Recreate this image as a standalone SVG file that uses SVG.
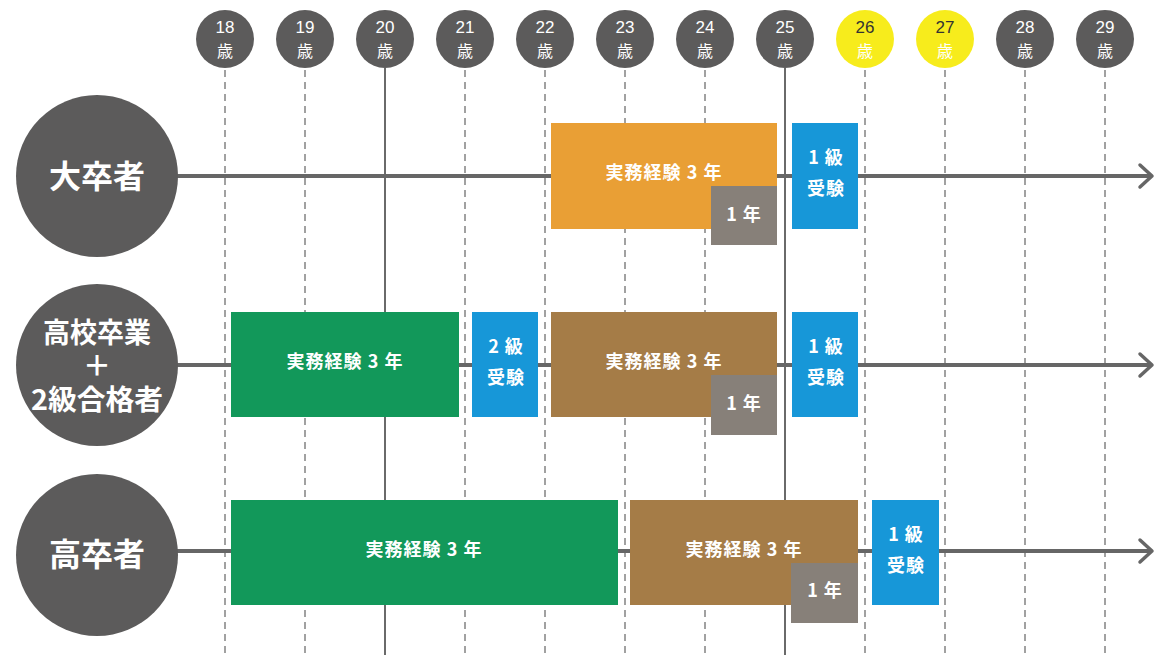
<svg xmlns="http://www.w3.org/2000/svg" width="1158" height="655" viewBox="0 0 1158 655">
<defs>
<style>
.vd{stroke:#8a8a8a;stroke-width:1.6;stroke-dasharray:7 5;fill:none}
.vs{stroke:#6a6a6a;stroke-width:2;fill:none}
.hl{stroke:#666;stroke-width:4;fill:none}
.ah{stroke:#666;stroke-width:3.5;fill:none;stroke-linecap:round;stroke-linejoin:round}
.age{fill:#5c5b5b}
.agey{fill:#f7ec1c}
.at{font-family:"Liberation Sans","Noto Sans CJK JP",sans-serif;font-size:17px;fill:#fff;text-anchor:middle}
.aty{fill:#333}
.ak{font-family:"Noto Sans CJK JP",sans-serif;font-size:16px;fill:#fff;text-anchor:middle}
.big{fill:#5c5b5b}
.bt{font-family:"Noto Sans CJK JP",sans-serif;font-weight:bold;fill:#fff;text-anchor:middle}
.bx{font-family:"Noto Sans CJK JP",sans-serif;font-weight:bold;font-size:18px;fill:#fff;text-anchor:middle;letter-spacing:1px}
.or{fill:#e99f35}
.gr{fill:#12985a}
.br{fill:#a57c47}
.bl{fill:#1797d8}
.gy{fill:#878079}
</style>
</defs>
<rect width="1158" height="655" fill="#fff"/>
<g id="grid">
<line class="vd" x1="225" y1="70" x2="225" y2="655"/>
<line class="vd" x1="305" y1="70" x2="305" y2="655"/>
<line class="vs" x1="385" y1="68" x2="385" y2="655"/>
<line class="vd" x1="465" y1="70" x2="465" y2="655"/>
<line class="vd" x1="545" y1="70" x2="545" y2="655"/>
<line class="vd" x1="625" y1="70" x2="625" y2="655"/>
<line class="vd" x1="705" y1="70" x2="705" y2="655"/>
<line class="vs" x1="785" y1="68" x2="785" y2="655"/>
<line class="vd" x1="865" y1="70" x2="865" y2="655"/>
<line class="vd" x1="945" y1="70" x2="945" y2="655"/>
<line class="vd" x1="1025" y1="70" x2="1025" y2="655"/>
<line class="vd" x1="1105" y1="70" x2="1105" y2="655"/>
</g>
<g id="ages">
<g id="age18"><circle class="age" cx="225" cy="39" r="29"/><text class="at" x="225" y="33">18</text><text class="ak" x="225" y="57">歳</text></g>
<g id="age19"><circle class="age" cx="305" cy="39" r="29"/><text class="at" x="305" y="33">19</text><text class="ak" x="305" y="57">歳</text></g>
<g id="age20"><circle class="age" cx="385" cy="39" r="29"/><text class="at" x="385" y="33">20</text><text class="ak" x="385" y="57">歳</text></g>
<g id="age21"><circle class="age" cx="465" cy="39" r="29"/><text class="at" x="465" y="33">21</text><text class="ak" x="465" y="57">歳</text></g>
<g id="age22"><circle class="age" cx="545" cy="39" r="29"/><text class="at" x="545" y="33">22</text><text class="ak" x="545" y="57">歳</text></g>
<g id="age23"><circle class="age" cx="625" cy="39" r="29"/><text class="at" x="625" y="33">23</text><text class="ak" x="625" y="57">歳</text></g>
<g id="age24"><circle class="age" cx="705" cy="39" r="29"/><text class="at" x="705" y="33">24</text><text class="ak" x="705" y="57">歳</text></g>
<g id="age25"><circle class="age" cx="785" cy="39" r="29"/><text class="at" x="785" y="33">25</text><text class="ak" x="785" y="57">歳</text></g>
<g id="age26"><circle class="agey" cx="865" cy="39" r="29"/><text class="at aty" x="865" y="33">26</text><text class="ak aty" x="865" y="57">歳</text></g>
<g id="age27"><circle class="agey" cx="945" cy="39" r="29"/><text class="at aty" x="945" y="33">27</text><text class="ak aty" x="945" y="57">歳</text></g>
<g id="age28"><circle class="age" cx="1025" cy="39" r="29"/><text class="at" x="1025" y="33">28</text><text class="ak" x="1025" y="57">歳</text></g>
<g id="age29"><circle class="age" cx="1105" cy="39" r="29"/><text class="at" x="1105" y="33">29</text><text class="ak" x="1105" y="57">歳</text></g>
</g>
<g id="connectors">
<line class="hl" x1="170" y1="176" x2="1150" y2="176"/>
<polyline class="ah" points="1140,165 1152,176 1140,187"/>
<line class="hl" x1="170" y1="365" x2="1150" y2="365"/>
<polyline class="ah" points="1140,354 1152,365 1140,376"/>
<line class="hl" x1="170" y1="551" x2="1150" y2="551"/>
<polyline class="ah" points="1140,540 1152,551 1140,562"/>
</g>
<g id="node-daisotsu">
<circle class="big" cx="97" cy="176" r="81"/>
<text class="bt" x="97" y="188" font-size="32">大卒者</text>
</g>
<g id="node-koukou2kyu">
<circle class="big" cx="97" cy="365" r="81"/>
<text class="bt" x="97" y="343" font-size="28" textLength="108" lengthAdjust="spacingAndGlyphs">高校卒業</text>
<text class="bt" x="97" y="376" font-size="28">＋</text>
<text class="bt" x="97" y="410" font-size="28" textLength="132" lengthAdjust="spacingAndGlyphs">2級合格者</text>
</g>
<g id="node-kousotsu">
<circle class="big" cx="97" cy="555" r="81"/>
<text class="bt" x="97" y="566" font-size="32">高卒者</text>
</g>
<g id="row1">
<g id="r1-exp"><rect class="or" x="551" y="123" width="226" height="106"/><text class="bx" x="664" y="179">実務経験 3 年</text></g>
<g id="r1-1nen"><rect class="gy" x="711" y="186" width="66" height="59"/><text class="bx" x="744" y="221">1 年</text></g>
<g id="r1-1kyu"><rect class="bl" x="792" y="123" width="66" height="106"/><text class="bx" x="826" y="164">1 級</text><text class="bx" x="826" y="195">受験</text></g>
</g>
<g id="row2">
<g id="r2-exp1"><rect class="gr" x="231" y="312" width="228" height="105"/><text class="bx" x="345" y="368">実務経験 3 年</text></g>
<g id="r2-2kyu"><rect class="bl" x="472" y="312" width="66" height="105"/><text class="bx" x="506" y="353">2 級</text><text class="bx" x="506" y="384">受験</text></g>
<g id="r2-exp2"><rect class="br" x="551" y="312" width="226" height="105"/><text class="bx" x="664" y="368">実務経験 3 年</text></g>
<g id="r2-1nen"><rect class="gy" x="711" y="375" width="66" height="60"/><text class="bx" x="744" y="410">1 年</text></g>
<g id="r2-1kyu"><rect class="bl" x="792" y="312" width="66" height="105"/><text class="bx" x="826" y="353">1 級</text><text class="bx" x="826" y="384">受験</text></g>
</g>
<g id="row3">
<g id="r3-exp1"><rect class="gr" x="231" y="500" width="387" height="105"/><text class="bx" x="424" y="556">実務経験 3 年</text></g>
<g id="r3-exp2"><rect class="br" x="630" y="500" width="228" height="105"/><text class="bx" x="744" y="556">実務経験 3 年</text></g>
<g id="r3-1nen"><rect class="gy" x="791" y="563" width="67" height="60"/><text class="bx" x="825" y="597">1 年</text></g>
<g id="r3-1kyu"><rect class="bl" x="872" y="500" width="67" height="105"/><text class="bx" x="906" y="541">1 級</text><text class="bx" x="906" y="572">受験</text></g>
</g>
</svg>
